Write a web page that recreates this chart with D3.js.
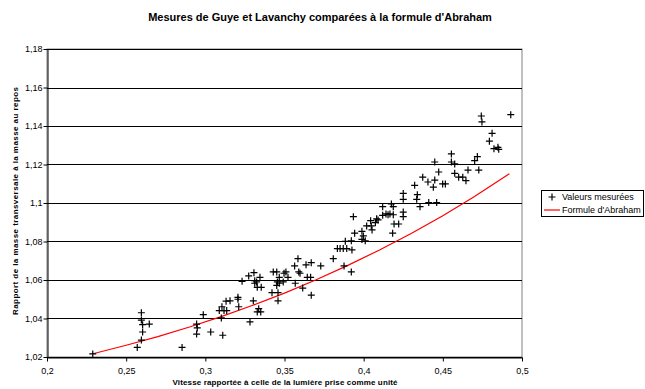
<!DOCTYPE html>
<html><head><meta charset="utf-8">
<script src="https://cdn.jsdelivr.net/npm/d3@7"></script>
<style>body{margin:0;background:#fff}svg{display:block;font-family:"Liberation Sans",Arial,sans-serif}</style>
</head><body>
<svg id="c" width="645" height="389"></svg>
<script>
// Measured values (velocity ratio, mass ratio)
const measuredX = [0.2289,0.2596,0.2596,0.2604,0.2646,0.2604,0.2596,0.2570,0.2853,0.2987,0.2945,0.2949,0.2945,0.3034,0.3110,0.3101,0.3105,0.3088,0.3118,0.3135,0.3131,0.3156,
0.3206,0.3206,0.3211,0.3282,0.3303,0.3232,0.3274,0.3307,0.3312,0.3324,0.3312,0.3345,0.3328,0.3353,0.3337,0.3350,0.3328,0.3421,0.3459,0.3459,0.3429,0.3451,
0.3467,0.3455,0.3467,0.3451,0.3492,0.3497,0.3509,0.3522,0.3564,0.3585,0.3590,0.3598,0.3568,0.3615,0.3636,0.3669,0.3644,0.3665,0.3669,0.3729,0.3808,
0.3834,0.3851,0.3871,0.3884,0.3893,0.3876,0.3922,0.3926,0.3922,0.3935,0.3943,0.3989,0.3998,0.3989,0.4010,0.4019,0.4048,0.4044,0.4053,0.4074,0.4082,0.4091,
0.4120,0.4120,0.4141,0.4154,0.4166,0.4175,0.4187,0.4187,0.4192,0.4221,0.4183,0.4250,0.4250,0.4250,0.4250,0.4322,0.4339,0.4335,0.4356,0.4373,0.4406,
0.4449,0.4440,0.4411,0.4461,0.4474,0.4449,0.4499,0.4516,0.4743,0.4747,0.4929,0.4811,0.4794,0.4823,0.4848,0.4853,0.4554,0.4554,0.4575,0.4701,0.4718,
0.4575,0.4659,0.4727,0.4600,0.4626,0.4646];
const measuredY = [1.0216,1.0430,1.0392,1.0368,1.0371,1.0330,1.0288,1.0250,1.0250,1.0420,1.0371,1.0351,1.0319,1.0330,1.0313,1.0403,1.0461,1.0441,1.0441,1.0441,1.0490,1.0492,
1.0510,1.0500,1.0461,1.0382,1.0492,1.0593,1.0621,1.0638,1.0596,1.0590,1.0583,1.0614,1.0562,1.0562,1.0451,1.0434,1.0434,1.0534,1.0534,1.0492,1.0642,1.0642,
1.0614,1.0590,1.0583,1.0572,1.0590,1.0635,1.0642,1.0614,1.0673,1.0711,1.0642,1.0635,1.0583,1.0558,1.0679,1.0690,1.0614,1.0614,1.0521,1.0673,1.0711,
1.0763,1.0763,1.0763,1.0801,1.0763,1.0673,1.0642,1.0756,1.0804,1.0929,1.0843,1.0853,1.0829,1.0811,1.0804,1.0881,1.0881,1.0908,1.0860,1.0898,1.0918,1.0912,
1.0981,1.0936,1.0943,1.0939,1.0943,1.0995,1.0981,1.0939,1.0891,1.0891,1.0843,1.1050,1.1019,1.0953,1.0929,1.1092,1.1043,1.1019,1.0981,1.1134,1.1109,
1.1119,1.1082,1.1002,1.1002,1.1161,1.1213,1.1099,1.1099,1.1452,1.1421,1.1459,1.1362,1.1321,1.1282,1.1289,1.1279,1.1255,1.1213,1.1203,1.1220,1.1241,
1.1154,1.1171,1.1171,1.1134,1.1134,1.1116];
// Abraham formula curve
const abrahamX = [0.229,0.25,0.27,0.29,0.31,0.33,0.35,0.37,0.39,0.41,0.43,0.45,0.47,0.492];
const abrahamY = [1.0217,1.0261,1.0306,1.0356,1.0410,1.0469,1.0532,1.0601,1.0676,1.0756,1.0842,1.0934,1.1034,1.1152];
const xTicks = [0.2,0.25,0.3,0.35,0.4,0.45,0.5];
const xTickLabels = ["0,2","0,25","0,3","0,35","0,4","0,45","0,5"];
const yTicks = [1.02,1.04,1.06,1.08,1.1,1.12,1.14,1.16,1.18];
const yTickLabels = ["1,02","1,04","1,06","1,08","1,1","1,12","1,14","1,16","1,18"];

const svg = d3.select("#c");
const L=47,R=522,T=49,B=357;
const x = d3.scaleLinear().domain([0.2,0.5]).range([L,R]);
const y = d3.scaleLinear().domain([1.02,1.18]).range([B,T]);

svg.append("text").attr("x",320).attr("y",21).attr("text-anchor","middle")
  .attr("font-size",11).attr("font-weight","bold").text("Mesures de Guye et Lavanchy comparées à la formule d'Abraham");

// plot border
svg.append("rect").attr("x",L).attr("y",T).attr("width",R-L).attr("height",B-T)
  .attr("fill","none").attr("stroke","#808080").attr("stroke-width",1);
// gridlines
svg.append("g").selectAll("line").data(yTicks).join("line")
  .attr("x1",L).attr("x2",R).attr("y1",d=>Math.round(y(d))+0.5).attr("y2",d=>Math.round(y(d))+0.5)
  .attr("stroke","#000").attr("stroke-width",1);

const yAxis = svg.append("g").attr("transform",`translate(${L+0.5},0)`)
  .call(d3.axisLeft(y).tickValues(yTicks).tickSize(4).tickSizeOuter(0).tickFormat((d,i)=>yTickLabels[i]));
const xAxis = svg.append("g").attr("transform",`translate(0,${B+0.5})`)
  .call(d3.axisBottom(x).tickValues(xTicks).tickSize(4).tickSizeOuter(0).tickFormat((d,i)=>xTickLabels[i]));
[yAxis,xAxis].forEach(g=>{
  g.selectAll("path,line").attr("stroke","#000");
  g.selectAll("text").attr("font-size",9).attr("font-family","Liberation Sans, Arial, sans-serif").attr("fill","#000");
});
yAxis.selectAll("text").attr("x",-5).attr("dy","0.33em");
xAxis.selectAll("text").attr("y",10).attr("dy","0.71em");

// Abraham curve
const line = d3.line().x(d=>x(d[0])).y(d=>y(d[1]));
svg.append("path").datum(abrahamX.map((v,i)=>[v,abrahamY[i]]))
  .attr("d",line).attr("fill","none").attr("stroke","#ff0000").attr("stroke-width",1.2);

// measured points
const plus = "M-3.5,0H3.5M0,-3.5V3.5";
svg.append("g").selectAll("path").data(measuredX.map((v,i)=>[v,measuredY[i]])).join("path")
  .attr("transform",d=>`translate(${x(d[0])},${y(d[1])})`).attr("d",plus)
  .attr("stroke","#000").attr("stroke-width",1.2).attr("fill","none");

// axis titles
svg.append("text").attr("x",285).attr("y",385).attr("text-anchor","middle")
  .attr("font-size",8).attr("font-weight","bold").attr("textLength",225).attr("lengthAdjust","spacing")
  .text("Vitesse rapportée à celle de la lumière prise comme unité");
svg.append("text").attr("transform","translate(17.5,201) rotate(-90)").attr("text-anchor","middle")
  .attr("font-size",8).attr("font-weight","bold").attr("textLength",228).attr("lengthAdjust","spacing")
  .text("Rapport de la masse transversale à la masse au repos");

// legend
const lg = svg.append("g");
lg.append("rect").attr("x",541.5).attr("y",190.5).attr("width",102).attr("height",26)
  .attr("fill","#fff").attr("stroke","#000").attr("stroke-width",1);
lg.append("path").attr("transform","translate(552,197)").attr("d",plus).attr("stroke","#000").attr("stroke-width",1.2);
lg.append("line").attr("x1",544).attr("x2",560).attr("y1",210).attr("y2",210).attr("stroke","#ff0000").attr("stroke-width",1.2);
lg.append("text").attr("x",562).attr("y",200).attr("font-size",9).text("Valeurs mesurées");
lg.append("text").attr("x",562).attr("y",213).attr("font-size",9).text("Formule d'Abraham");
</script>
</body></html>
